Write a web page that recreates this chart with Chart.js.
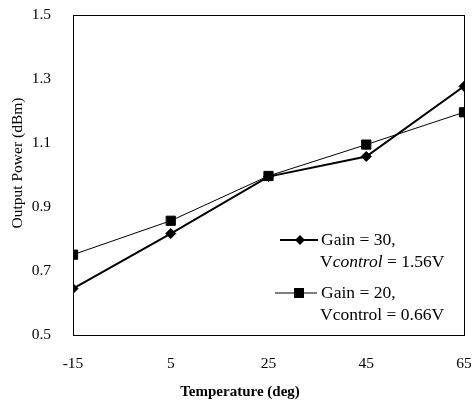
<!DOCTYPE html>
<html lang="en">
<head>
    <meta charset="UTF-8">
    <title>Output Power vs Temperature</title>
    <script src="https://cdn.jsdelivr.net/npm/chart.js"></script>
    <style>
        body { margin: 0; background: #fff; }
        #wrap { width: 473px; height: 408px; }
    </style>
</head>
<body>
    <div id="wrap"><canvas id="powerChart" width="473" height="408"></canvas></div>

    <script>
    // values
    const temps = [-15, 5, 25, 45, 65];
    const gain30 = [0.645, 0.817, 0.995, 1.058, 1.277];
    const gain20 = [0.751, 0.857, 0.997, 1.095, 1.196];
    const xTicks = [-15, 5, 25, 45, 65];
    const yTicks = [0.5, 0.7, 0.9, 1.1, 1.3, 1.5];

    const serif = "'Liberation Serif', 'Times New Roman', serif";
    Chart.defaults.font.family = serif;
    Chart.defaults.color = '#000';

    const toPoints = vals => temps.map((t, i) => ({ x: t, y: vals[i] }));

    function drawMarker(ctx, kind, x, y) {
        ctx.beginPath();
        if (kind === 'diamond') {
            ctx.moveTo(x, y - 5); ctx.lineTo(x + 5, y); ctx.lineTo(x, y + 5); ctx.lineTo(x - 5, y);
            ctx.closePath();
        } else {
            ctx.rect(x - 5, y - 5, 10, 10);
        }
        ctx.fill();
    }

    // frame round the plot area, plus axis titles and the legend inside the plot
    const extras = {
        id: 'extras',
        beforeDatasetsDraw(chart) {
            const { ctx, chartArea: a } = chart;
            ctx.save();
            ctx.strokeStyle = '#000';
            ctx.lineWidth = 1;
            ctx.strokeRect(a.left + 0.5, a.top + 0.5, a.right - a.left, a.bottom - a.top);
            ctx.restore();
        },
        afterDraw(chart) {
            const { ctx, chartArea: a } = chart;
            ctx.save();
            ctx.fillStyle = '#000';
            ctx.strokeStyle = '#000';

            // axis titles
            ctx.font = 'bold 15px ' + serif;
            ctx.textAlign = 'center';
            ctx.textBaseline = 'middle';
            ctx.fillText('Temperature (deg)', a.left + 167, a.bottom + 57);
            ctx.save();
            ctx.translate(18, a.top + 148);
            ctx.rotate(-Math.PI / 2);
            ctx.font = '15.5px ' + serif;
            ctx.fillText('Output Power (dBm)', 0, 0);
            ctx.restore();

            // legend
            const fs = '17.5px ' + serif;
            const entries = [
                { kind: 'diamond', lw: 2, x0: 207, x1: 245, mx: 227, y: 225, l1: 'Gain = 30,', italic: true, val: '1.56V' },
                { kind: 'square', lw: 1, x0: 202, x1: 244, mx: 226, y: 278, l1: 'Gain = 20,', italic: false, val: '0.66V' }
            ];
            ctx.textAlign = 'left';
            entries.forEach(e => {
                const y = a.top + e.y;
                ctx.lineWidth = e.lw;
                ctx.beginPath();
                ctx.moveTo(a.left + e.x0, y);
                ctx.lineTo(a.left + e.x1, y);
                ctx.stroke();
                drawMarker(ctx, e.kind, a.left + e.mx, y);

                ctx.font = fs;
                ctx.fillText(e.l1, a.left + 248, y);
                let x = a.left + 247;
                const y2 = y + 22;
                ctx.fillText('V', x, y2);
                x += ctx.measureText('V').width;
                ctx.font = (e.italic ? 'italic ' : '') + fs;
                ctx.fillText('control', x, y2);
                x += ctx.measureText('control').width;
                ctx.font = fs;
                ctx.fillText(' = ' + e.val, x, y2);
            });
            ctx.restore();
        }
    };

    new Chart(document.getElementById('powerChart'), {
        type: 'line',
        data: {
            datasets: [
                {
                    label: 'Gain = 30, Vcontrol = 1.56V',
                    data: toPoints(gain30),
                    borderColor: '#000',
                    backgroundColor: '#000',
                    borderWidth: 2,
                    pointStyle: 'rectRot',
                    pointRadius: 5,
                    pointBorderWidth: 1
                },
                {
                    label: 'Gain = 20, Vcontrol = 0.66V',
                    data: toPoints(gain20),
                    borderColor: '#000',
                    backgroundColor: '#000',
                    borderWidth: 1,
                    pointStyle: 'rect',
                    pointRadius: 6.5,
                    pointBorderWidth: 1
                }
            ]
        },
        options: {
            responsive: false,
            animation: false,
            layout: { padding: { top: 15, right: 9, left: 0, bottom: 0 } },
            plugins: {
                legend: { display: false },
                tooltip: { enabled: false }
            },
            scales: {
                x: {
                    type: 'linear',
                    min: -15,
                    max: 65,
                    afterBuildTicks: s => { s.ticks = xTicks.map(v => ({ value: v })); },
                    afterFit: s => { s.height = 73; s.paddingLeft = 0; s.paddingRight = 0; },
                    grid: { display: false, drawTicks: false },
                    border: { display: false },
                    ticks: { font: { size: 15.5 }, padding: 20, maxRotation: 0 }
                },
                y: {
                    min: 0.5,
                    max: 1.5,
                    afterBuildTicks: s => { s.ticks = yTicks.map(v => ({ value: v })); },
                    afterFit: s => { s.width = 73; s.paddingTop = 0; s.paddingBottom = 0; },
                    grid: { display: false, drawTicks: false },
                    border: { display: false },
                    ticks: { font: { size: 15.5 }, padding: 22, callback: v => v.toFixed(1) }
                }
            }
        },
        plugins: [extras]
    });
    </script>
</body>
</html>
